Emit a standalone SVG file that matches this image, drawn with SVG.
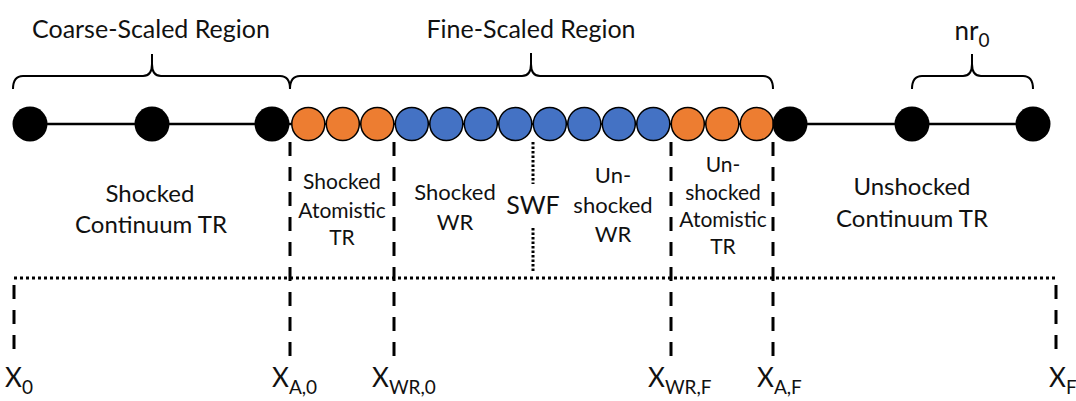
<svg xmlns="http://www.w3.org/2000/svg" width="1076" height="401" viewBox="0 0 1076 401">
<style>
text{font-family:Lato,"Open Sans","Liberation Sans",sans-serif;fill:#111;text-anchor:middle}
.t{font-size:25px}
.l{font-size:24px}
.m{font-size:22px}
.s{font-size:21px}
.w{font-size:25px}
.x{font-size:26px;text-anchor:start}
.sub{font-size:19px}
.brace{fill:none;stroke:#000;stroke-width:2}
.bk{fill:#000}
.or{fill:#ED7D31;stroke:#000;stroke-width:1.5}
.bl{fill:#4472C4;stroke:#000;stroke-width:1.5}
.dash{stroke:#000;stroke-width:3;stroke-dasharray:14 11;fill:none}
.dot{stroke:#000;stroke-width:3;stroke-dasharray:3 3;fill:none}
.sdot{stroke:#000;stroke-width:3;stroke-dasharray:2.5 2;fill:none}
</style>
<g id="labels-top">
<text class="t" x="151" y="38">Coarse-Scaled Region</text>
<text class="t" x="531" y="38">Fine-Scaled Region</text>
<text class="t" x="972" y="40" style="font-size:26px">nr<tspan class="sub" dy="7">0</tspan></text>
</g>
<g id="braces">
<path class="brace" d="M13,89 Q13,76 23,76 H143 Q152,76 152,64 V54 M152,64 Q152,76 161,76 H280 Q290,76 290,89"/>
<path class="brace" d="M290,89 Q290,76 300,76 H522 Q531,76 531,64 V53 M531,64 Q531,76 540,76 H763 Q773,76 773,89"/>
<path class="brace" d="M912,89 Q912,76 922,76 H963 Q972,76 972,64 V54 M972,64 Q972,76 981,76 H1023 Q1033,76 1033,89"/>
</g>
<g id="connectors">
<line x1="30" y1="124" x2="1033" y2="124" stroke="#000" stroke-width="2.5"/>
<line class="dash" x1="290" y1="142" x2="290" y2="362"/>
<line class="dash" x1="394" y1="142" x2="394" y2="362"/>
<line class="dash" x1="671" y1="142" x2="671" y2="362"/>
<line class="dash" x1="773" y1="142" x2="773" y2="362"/>
<line class="dash" x1="14" y1="278" x2="14" y2="360" stroke-dashoffset="18"/>
<line class="dash" x1="1056" y1="278" x2="1056" y2="360" stroke-dashoffset="18"/>
<line class="dot" x1="14" y1="278" x2="1056" y2="278"/>
<line class="sdot" x1="533" y1="142" x2="533" y2="184"/>
<line class="sdot" x1="533" y1="228" x2="533" y2="273"/>
</g>
<g id="node-c1"><circle class="bk" cx="30" cy="124" r="17.5"/></g>
<g id="node-c2"><circle class="bk" cx="152" cy="124" r="17.5"/></g>
<g id="node-c3"><circle class="bk" cx="272" cy="124" r="17.5"/></g>
<g id="node-a1"><circle class="or" cx="308.3" cy="124" r="16.5"/></g>
<g id="node-a2"><circle class="or" cx="342.8" cy="124" r="16.5"/></g>
<g id="node-a3"><circle class="or" cx="377.3" cy="124" r="16.5"/></g>
<g id="node-w1"><circle class="bl" cx="411.8" cy="124" r="16.5"/></g>
<g id="node-w2"><circle class="bl" cx="446.3" cy="124" r="16.5"/></g>
<g id="node-w3"><circle class="bl" cx="480.8" cy="124" r="16.5"/></g>
<g id="node-w4"><circle class="bl" cx="515.3" cy="124" r="16.5"/></g>
<g id="node-w5"><circle class="bl" cx="549.8" cy="124" r="16.5"/></g>
<g id="node-w6"><circle class="bl" cx="584.3" cy="124" r="16.5"/></g>
<g id="node-w7"><circle class="bl" cx="618.8" cy="124" r="16.5"/></g>
<g id="node-w8"><circle class="bl" cx="653.3" cy="124" r="16.5"/></g>
<g id="node-a4"><circle class="or" cx="687.8" cy="124" r="16.5"/></g>
<g id="node-a5"><circle class="or" cx="722.3" cy="124" r="16.5"/></g>
<g id="node-a6"><circle class="or" cx="756.8" cy="124" r="16.5"/></g>
<g id="node-c4"><circle class="bk" cx="790" cy="124" r="17.5"/></g>
<g id="node-c5"><circle class="bk" cx="912" cy="124" r="17.5"/></g>
<g id="node-c6"><circle class="bk" cx="1033" cy="124" r="17.5"/></g>
<g id="region-labels">
<text class="l" x="150" y="202">Shocked</text>
<text class="l" x="151" y="233">Continuum TR</text>
<text class="s" x="342" y="189">Shocked</text>
<text class="s" x="342" y="218">Atomistic</text>
<text class="s" x="342" y="245">TR</text>
<text class="m" x="455" y="200">Shocked</text>
<text class="m" x="455" y="230">WR</text>
<text class="w" x="533" y="214">SWF</text>
<text class="m" x="613" y="183">Un-</text>
<text class="m" x="613" y="213">shocked</text>
<text class="m" x="613" y="242">WR</text>
<text class="s" x="723" y="172">Un-</text>
<text class="s" x="723" y="200">shocked</text>
<text class="s" x="723" y="227">Atomistic</text>
<text class="s" x="723" y="254">TR</text>
<text class="l" x="912" y="195">Unshocked</text>
<text class="l" x="912" y="227">Continuum TR</text>
</g>
<g id="axis-labels">
<text class="x" x="5" y="387">X<tspan class="sub" dy="7">0</tspan></text>
<text class="x" x="272" y="387">X<tspan class="sub" dy="7">A,0</tspan></text>
<text class="x" x="372" y="387">X<tspan class="sub" dy="7">WR,0</tspan></text>
<text class="x" x="648" y="387">X<tspan class="sub" dy="7">WR,F</tspan></text>
<text class="x" x="757" y="387">X<tspan class="sub" dy="7">A,F</tspan></text>
<text class="x" x="1049" y="387">X<tspan class="sub" dy="7">F</tspan></text>
</g>
</svg>
